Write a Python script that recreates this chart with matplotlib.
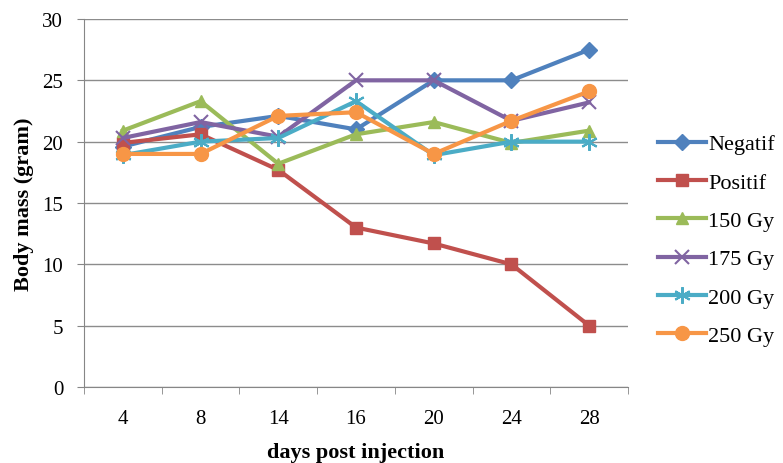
import matplotlib
matplotlib.use("Agg")
import matplotlib.pyplot as plt
import numpy as np

days = ["4", "8", "14", "16", "20", "24", "28"]
negatif = [19.6, 21.2, 22.1, 21.0, 25.0, 25.0, 27.5]
positif = [19.9, 20.6, 17.7, 13.0, 11.7, 10.0, 5.0]
gy150 = [20.9, 23.3, 18.2, 20.6, 21.6, 19.9, 20.9]
gy175 = [20.3, 21.6, 20.4, 25.0, 25.0, 21.7, 23.2]
gy200 = [18.9, 20.0, 20.3, 23.3, 18.9, 20.0, 20.0]
gy250 = [19.0, 19.0, 22.1, 22.4, 19.0, 21.7, 24.1]

series = [
    ("Negatif", negatif, "#4F81BD", "D", 8),
    ("Positif", positif, "#C0504D", "s", 9),
    ("150 Gy", gy150, "#9BBB59", "^", 9),
    ("175 Gy", gy175, "#8064A2", "x", 10),
    ("200 Gy", gy200, "#4BACC6", (6, 2, 0), 12),
    ("250 Gy", gy250, "#F79646", "o", 10),
]

plt.rcParams['font.family'] = ['Liberation Serif', 'DejaVu Serif']

fig = plt.figure(figsize=(7.83, 4.64), dpi=100)
ax = fig.add_axes([84/783, 1-388/464, (628-84)/783, (388-20)/464])

x = np.arange(len(days))
for name, vals, col, mk, ms in series:
    mew = 1.5 if mk in ("x",) or isinstance(mk, tuple) else 1
    ax.plot(x, vals, color=col, lw=3, marker=mk, markersize=ms,
            markeredgewidth=mew, markeredgecolor=col, label=name)

ax.set_xlim(-0.5, len(days) - 0.5)
ax.set_ylim(0, 30)
ax.set_yticks(range(0, 31, 5))
ax.set_xticks(x)
ax.set_xticklabels(days)
ax.set_xticks(np.arange(-0.5, len(days), 1), minor=True)
ax.tick_params(axis='x', which='major', length=0, pad=16, labelsize=15)
ax.tick_params(axis='x', which='minor', length=5, color='#868686', direction='out')
ax.tick_params(axis='y', length=5, color='#868686', direction='out', labelsize=15, pad=10)
ax.grid(axis='y', color='#8c8c8c', lw=1)
ax.set_axisbelow(True)
for s in ['top', 'right']:
    ax.spines[s].set_visible(False)
for s in ['left', 'bottom']:
    ax.spines[s].set_color('#868686')

ax.set_xlabel("days post injection", fontsize=16, fontweight='bold', labelpad=10)
ax.set_ylabel("Body mass (gram)", fontsize=16, fontweight='bold', labelpad=6)

leg = fig.legend(loc='center left', bbox_to_anchor=(658/783, 1-241/464), frameon=False,
                 fontsize=16, handlelength=2.15, labelspacing=0.8, handletextpad=0.1,
                 borderaxespad=0, borderpad=0)

fig.savefig("out.png", dpi=100)
